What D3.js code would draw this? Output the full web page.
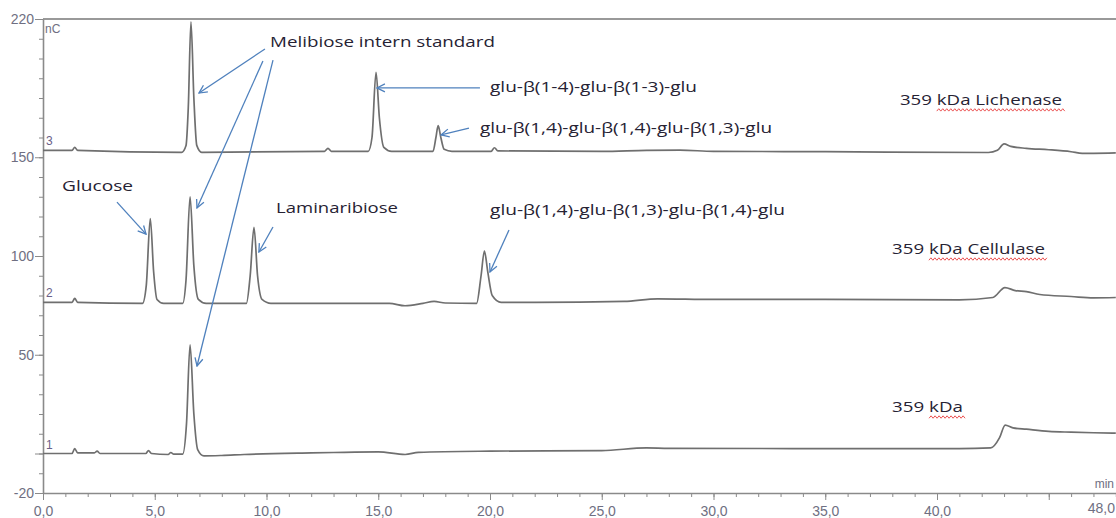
<!DOCTYPE html>
<html><head><meta charset="utf-8">
<script src="https://cdn.jsdelivr.net/npm/d3@7"></script>
<style>
body{margin:0;background:#fff;}
svg{display:block;}
</style></head><body>
<div id="chart"></div>
<script>
// chromatogram traces, [time (min), signal (nC)]
var trace1 = [[0,0],[1.3,0],[1.42,2.5],[1.55,0.3],[2.3,0.3],[2.42,1.2],[2.55,0],[4.6,0],[4.72,1.5],[4.85,0],
  [5.6,-0.5],[5.72,0.5],[5.85,-0.3],[6.25,-0.3],[6.42,15],[6.58,55],[6.75,20],[6.92,2],[7.2,-1.2],[8,-1],
  [9,-0.5],[12,0.3],[13,0.5],[15,0.8],[16.2,-0.5],[16.8,0.6],[20,1.2],[25,1.5],[27,2.8],[28,2.6],[35,2.5],
  [41,2.5],[42.4,2.8],[42.8,8],[43.05,14.4],[43.4,13],[44,12.3],[45,11.2],[46,10.8],[47,10.5],[48,10.3]];
var trace2 = [[0,76.5],[1.3,76.5],[1.42,78.5],[1.55,76.5],[4.45,76],[4.62,85],[4.8,119],[4.95,92],[5.1,78],
  [5.4,76],[6.25,76],[6.4,88],[6.58,130],[6.75,95],[6.95,78],[7.3,76],[9.1,76],[9.27,90],[9.44,114.5],
  [9.6,90],[9.8,78],[10.2,76],[14,76],[15.5,76],[16.2,74.8],[17,76],[17.5,77],[18,76.2],[19.4,76],
  [19.6,90],[19.75,102.5],[19.9,92],[20.1,80],[20.5,76.5],[22,76.5],[26,77],[27.5,78.3],[30,78],[35,78],
  [41,77.8],[42.5,79],[43.04,84],[43.5,82.5],[44,82],[44.6,80.5],[46,79.5],[47,78.8],[48,79]];
var trace3 = [[0,153.5],[1.3,153.5],[1.42,155],[1.55,153.5],[6.2,152.5],[6.4,156],[6.5,175],[6.62,218.5],
  [6.75,180],[6.88,156],[7.1,152.5],[12.6,153],[12.75,154.5],[12.9,153],[14.55,153],[14.72,160],
  [14.9,193],[15.05,170],[15.25,155],[15.6,153],[17.45,153],[17.58,160],[17.68,166],[17.8,160],
  [17.95,154],[18.3,153],[20.05,153],[20.2,154.8],[20.35,153.2],[25,153],[27,153.5],[28.5,153.6],
  [30,153],[35,152.8],[42.3,152.4],[42.7,153.5],[43.0,156.8],[43.3,155.5],[44,154.5],[45,153.8],
  [46,152.8],[46.5,152],[47,152],[48,152.2]];
var traces = [trace1, trace2, trace3];
var traceNames = ["1", "2", "3"];
var traceBase = [0, 76.5, 153.5];

var xMajor = [0, 5, 10, 15, 20, 25, 30, 35, 40, 45];
var xEnd = 48;
var yMajor = [220, 150, 100, 50, 0, -20];
var yLabels = [220, 150, 100, 50, -20];

// peak labels: text, start/end time, baseline value
var peakLabels = [
  {text: "Melibiose intern standard", t0: 10.16, t1: 20.22, v: 205.8},
  {text: "glu-β(1-4)-glu-β(1-3)-glu", t0: 20.0, t1: 29.26, v: 183},
  {text: "glu-β(1,4)-glu-β(1,4)-glu-β(1,3)-glu", t0: 19.55, t1: 32.62, v: 162.3},
  {text: "Glucose", t0: 0.85, t1: 4.03, v: 132.9},
  {text: "Laminaribiose", t0: 10.43, t1: 15.88, v: 121.8},
  {text: "glu-β(1,4)-glu-β(1,3)-glu-β(1,4)-glu", t0: 20.0, t1: 33.2, v: 120.8}
];
// arrows: from (t, v) to (t, v)
var arrows = [
  [9.93, 204.8, 6.98, 182.5],
  [9.84, 198.7, 6.89, 124.3],
  [10.29, 199.2, 6.89, 44.3],
  [19.55, 185.1, 14.94, 185.1],
  [19.06, 164.8, 17.81, 161.3],
  [3.31, 127.3, 4.61, 111.1],
  [10.29, 114.7, 9.66, 102.0],
  [20.85, 113.2, 20.0, 91.9]
];
var sampleLabels = [
  {text: "359 kDa Lichenase", t0: 38.34, t1: 45.59, v: 176.5},
  {text: "359 kDa Cellulase", t0: 37.99, t1: 44.83, v: 101},
  {text: "359 kDa", t0: 37.99, t1: 41.16, v: 21}
];

var width = 1116, height = 518;
var x = d3.scaleLinear().domain([0, xEnd]).range([43, 1115.8]);
var y = d3.scaleLinear().domain([-20, 220]).range([493, 19]);
var fmt = function(d) { return d.toFixed(1).replace(".", ","); };

var svg = d3.select("#chart").append("svg")
    .attr("width", width).attr("height", height)
    .style("font-family", "'Liberation Sans', Arial, sans-serif");

var blue = "#4f81bd", axisCol = "#8a8a8a", labCol = "#6f6f82";

svg.append("defs").append("marker")
    .attr("id", "ah").attr("viewBox", "0 0 10 10")
    .attr("refX", 9).attr("refY", 5)
    .attr("markerWidth", 10).attr("markerHeight", 10)
    .attr("markerUnits", "userSpaceOnUse").attr("orient", "auto")
  .append("path").attr("d", "M1,1L9,5L1,9")
    .attr("fill", "none").attr("stroke", blue).attr("stroke-width", 1.3);

// top border
svg.append("line")
    .attr("x1", x(0)).attr("x2", width).attr("y1", y(220)).attr("y2", y(220))
    .attr("stroke", "#999").attr("stroke-width", 2);

// x axis - minor ticks
svg.append("g").attr("transform", "translate(0," + y(-20) + ")")
    .call(d3.axisBottom(x).tickValues(d3.range(0, xEnd + 1, 1)).tickSize(4).tickFormat(""))
    .call(function(g) { g.select(".domain").remove(); });
// x axis - major ticks
var gx = svg.append("g").attr("transform", "translate(0," + y(-20) + ")")
    .call(d3.axisBottom(x).tickValues(xMajor).tickSize(7).tickSizeOuter(0)
      .tickFormat(function(d) { return d === 45 ? "" : fmt(d); }));
gx.select(".domain").attr("stroke-width", 1.6);

// y axis - minor ticks
svg.append("g").attr("transform", "translate(" + x(0) + ",0)")
    .call(d3.axisLeft(y).tickValues(d3.range(-20, 221, 10)).tickSize(4).tickFormat(""))
    .call(function(g) { g.select(".domain").remove(); });
// y axis - major ticks
var gy = svg.append("g").attr("transform", "translate(" + x(0) + ",0)")
    .call(d3.axisLeft(y).tickValues(yMajor).tickSize(8).tickSizeOuter(0)
      .tickFormat(function(d) { return yLabels.indexOf(d) >= 0 ? d : ""; }));
gy.select(".domain").attr("stroke-width", 1.6);

svg.selectAll(".tick line").attr("stroke", axisCol);
svg.selectAll(".domain").attr("stroke", axisCol);
svg.selectAll(".tick text").attr("fill", labCol).attr("font-size", 14)
    .attr("font-family", "'Liberation Sans', Arial, sans-serif");
gx.selectAll(".tick text").attr("dy", "0.95em");
gy.selectAll(".tick text").attr("x", -9);

// axis end label at the right edge
svg.append("text").attr("x", width - 1).attr("y", y(-20) + 20)
    .attr("text-anchor", "end").attr("font-size", 14).attr("fill", labCol)
    .text(fmt(xEnd));

// unit labels
svg.append("text").attr("x", x(0) + 2).attr("y", y(220) + 14)
    .attr("font-size", 12).attr("fill", labCol).text("nC");
svg.append("text").attr("x", width - 2).attr("y", y(-20) - 5)
    .attr("text-anchor", "end")
    .attr("font-size", 12).attr("fill", labCol).text("min");

// traces
var line = d3.line()
    .x(function(d) { return x(d[0]); })
    .y(function(d) { return y(d[1]); })
    .curve(d3.curveMonotoneX);

svg.append("g").selectAll("path").data(traces).enter().append("path")
    .attr("d", line)
    .attr("fill", "none").attr("stroke", "#6f6f6f").attr("stroke-width", 1.7)
    .attr("stroke-linejoin", "round");

svg.append("g").selectAll("text").data(traceNames).enter().append("text")
    .attr("x", x(0) + 3)
    .attr("y", function(d, i) { return y(traceBase[i]) - 5; })
    .attr("font-size", 12).attr("fill", "#6a5f88")
    .text(function(d) { return d; });

// arrows
svg.append("g").selectAll("line").data(arrows).enter().append("line")
    .attr("x1", function(d) { return x(d[0]); })
    .attr("y1", function(d) { return y(d[1]); })
    .attr("x2", function(d) { return x(d[2]); })
    .attr("y2", function(d) { return y(d[3]); })
    .attr("stroke", blue).attr("stroke-width", 1.3)
    .attr("marker-end", "url(#ah)");

// peak and sample labels
function addLabels(list) {
  return svg.append("g").selectAll("text").data(list).enter().append("text")
      .attr("x", function(d) { return x(d.t0); })
      .attr("y", function(d) { return y(d.v); })
      .attr("textLength", function(d) { return x(d.t1) - x(d.t0); })
      .attr("lengthAdjust", "spacingAndGlyphs")
      .attr("font-family", "'Open Sans', 'Noto Sans', sans-serif")
      .attr("font-size", 15).attr("fill", "#262233")
      .text(function(d) { return d.text; });
}
addLabels(peakLabels);
var sl = addLabels(sampleLabels);

// red wavy spell-check underline under the "kDa ..." part
sl.each(function(d) {
  var node = this;
  var xs = node.getStartPositionOfChar(4).x;
  var xe = x(d.t1) + 3;
  var yb = y(d.v) + 5;
  var pts = [];
  for (var px = xs, k = 0; px <= xe; px += 2, k++) pts.push([px, yb + (k % 2 ? -1.2 : 1.2)]);
  svg.append("path").attr("d", d3.line()(pts))
      .attr("fill", "none").attr("stroke", "#e84040").attr("stroke-width", 0.9);
});
</script>
</body></html>
